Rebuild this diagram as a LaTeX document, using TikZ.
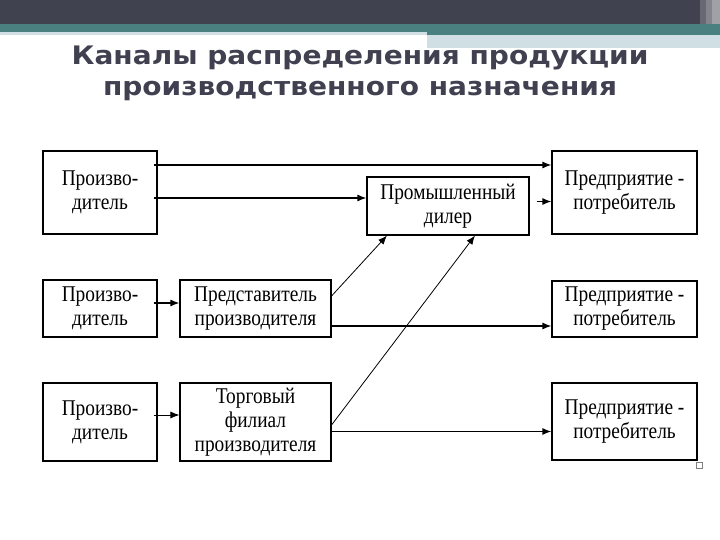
\documentclass[tikz,border=0pt]{standalone}
\usepackage{fontspec}
\usetikzlibrary{arrows.meta}
\newfontfamily\titlefont[FakeStretch=1.1]{DejaVu Sans}
\newfontfamily\boxfont[FakeStretch=0.86]{Liberation Serif}
\definecolor{bardark}{HTML}{41424F}
\definecolor{barteal}{HTML}{4A8080}
\definecolor{barlight}{HTML}{D0DFE3}
\definecolor{titlegray}{HTML}{404050}
\begin{document}
\begin{tikzpicture}
[x=1pt,y=-1pt,
  boxdecorate/.style={draw,line width=1.1pt,inner sep=0pt,align=center,
    font=\boxfont\fontsize{22.5}{24}\selectfont},%
  titledecorate/.style={anchor=base,text=titlegray,inner sep=0pt,
    font=\titlefont\bfseries\fontsize{25.5}{30}\selectfont},%
  linedecorate/.style={-{Latex[length=9pt,width=7pt]},line width=1.3pt},%
  thinlinedecorate/.style={-{Latex[length=9pt,width=7pt]},line width=0.8pt}]
\useasboundingbox (0,0) rectangle (720,540);
%% header bars
\fill[bardark] (0,0) rectangle (720,24);
\fill[barteal] (0,24) rectangle (720,32);
\fill[barteal] (427,32) rectangle (720,35);
\fill[barlight] (0,32) rectangle (427,35);
\fill[barlight] (427,35) rectangle (720,48);
\fill[bardark!80!white] (700,0) rectangle (706,24);
\fill[bardark!65!white] (706,0) rectangle (712,24);
\fill[bardark!50!white] (712,0) rectangle (720,24);
%% title
\node (title1) at (360,65) [titledecorate] {Каналы распределения продукции};
\node (title2) at (360,96) [titledecorate] {производственного назначения};
%% nodes or boxes
\foreach \nodename/\x/\y/\w/\h/\txt in {
  prodA/100/192.5/114/83/{Произво-\\дитель},
  dealer/448/206/162/58/{Промышленный\\дилер},
  consA/624.5/192.5/145/83/{Предприятие -\\потребитель},
  prodB/100/308.5/114/57/{Произво-\\дитель},
  rep/255.5/308.5/151/57/{Представитель\\производителя},
  consB/624.5/309/145/56/{Предприятие -\\потребитель},
  prodC/100/422/114/78/{Произво-\\дитель},
  branch/255.5/422/151/78/{Торговый\\филиал\\производителя},
  consC/624.5/421.5/145/77/{Предприятие -\\потребитель}} {
  \node (\nodename) at (\x,\y) [boxdecorate,minimum width=\w pt,minimum height=\h pt] {\txt};
}
%% arrows
\draw[linedecorate] ([xshift=-4pt,yshift=27.5pt]prodA.east) -- ([yshift=27.5pt]consA.west);
\draw[linedecorate] ([xshift=-4pt,yshift=-5.5pt]prodA.east) -- ([yshift=8pt]dealer.west);
\draw[linedecorate] ([xshift=7pt,yshift=4.5pt]dealer.east) -- ([yshift=-9pt]consA.west);
\draw[linedecorate] ([xshift=-4pt,yshift=5.5pt]prodB.east) -- ([yshift=5.5pt]rep.west);
\draw[linedecorate] ([yshift=-17.5pt]rep.east) -- ([yshift=-17pt]consB.west);
\draw[thinlinedecorate] ([xshift=-4pt,yshift=7pt]prodC.east) -- ([yshift=7pt]branch.west);
\draw[linedecorate] ([yshift=-9.5pt]branch.east) -- ([yshift=-10pt]consC.west);
\draw[thinlinedecorate] ([yshift=12.5pt]rep.east) -- ([xshift=-61pt]dealer.south);
\draw[thinlinedecorate] ([yshift=-3pt]branch.east) -- ([xshift=27pt]dealer.south);
%% small marker
\draw[gray,line width=0.8pt] (696,462) rectangle (702,468);
\end{tikzpicture}
\end{document}
